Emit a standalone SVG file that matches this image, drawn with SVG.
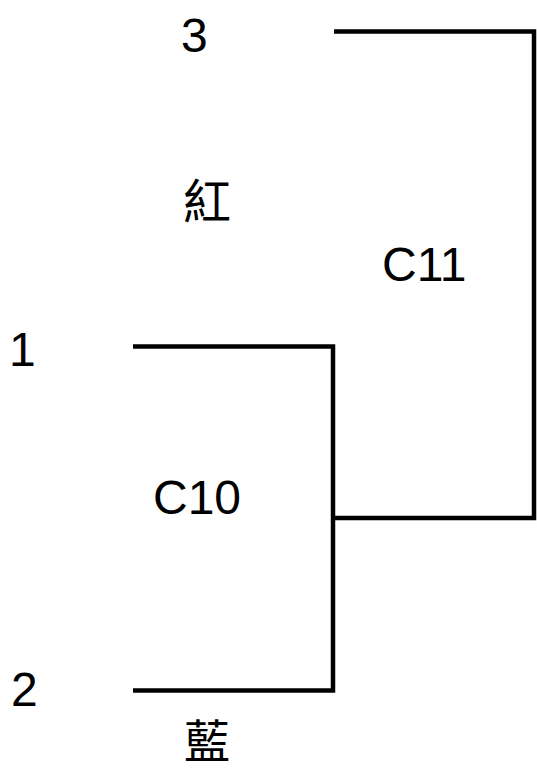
<svg xmlns="http://www.w3.org/2000/svg" width="537" height="772" viewBox="0 0 537 772">
<style>
.lbl{font-family:"Liberation Sans",Arial,sans-serif;font-size:48px;fill:#000}
.cjk{font-family:"Noto Sans CJK TC","Noto Sans CJK SC",sans-serif;font-size:48px;fill:#000;text-anchor:middle}
.edge{fill:none;stroke:#000;stroke-width:4.5;stroke-linejoin:miter}
</style>
<rect width="537" height="772" fill="#fff"/>
<g id="connectors">
<path class="edge" d="M133,346.5 H333 V690.5 H133"/>
<path class="edge" d="M333,518 H534 V31.5 H334"/>
</g>
<g id="leaf3"><text class="lbl" x="181" y="52">3</text></g>
<g id="leaf1"><text class="lbl" x="9" y="366">1</text></g>
<g id="leaf2"><text class="lbl" x="11" y="706">2</text></g>
<g id="C10"><text class="lbl" x="153" y="514">C10</text></g>
<g id="C11"><text class="lbl" x="382" y="281">C11</text></g>
<g id="label-red"><text class="cjk" x="207" y="219">紅</text></g>
<g id="label-blue"><text class="cjk" x="207" y="758" style="font-size:46px">藍</text></g>
</svg>
